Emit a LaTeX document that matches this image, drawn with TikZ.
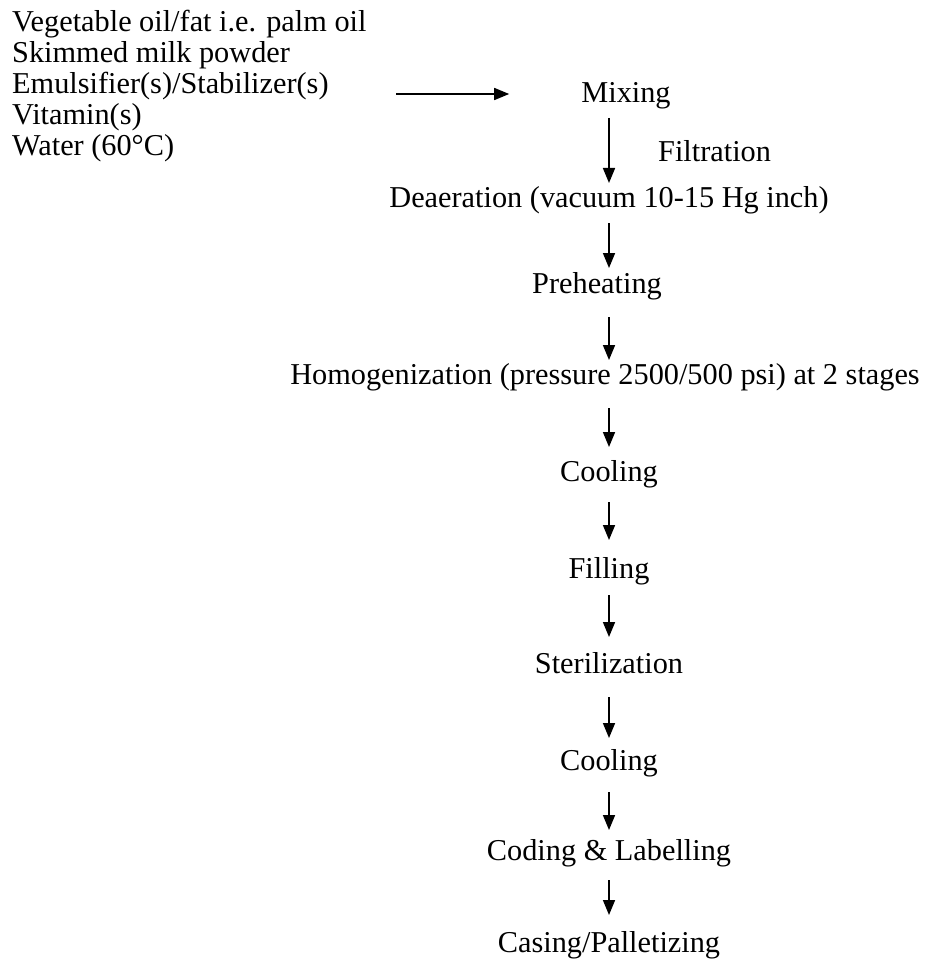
\documentclass[tikz,border=0pt]{standalone}
\usepackage{fontspec}
\setmainfont{Liberation Serif}
\usetikzlibrary{arrows.meta}
\begin{document}
\begin{tikzpicture}[x=1pt,y=-1pt,
  txt/.style={inner sep=0pt,font=\fontsize{30.3}{31}\selectfont},
  stepnode/.style={txt,anchor=base},
  leftnode/.style={txt,anchor=base west},
  arr/.style={line width=1.6pt,-{Triangle[length=15pt,width=12pt]}}]
\useasboundingbox (0,0) rectangle (925,960);
\coordinate (ax) at (609,0);
% inputs
\node[leftnode] (in1) at (12,32) {Vegetable oil/fat i.e. palm oil};
\node[leftnode] (in2) at (12,63) {Skimmed milk powder};
\node[leftnode] (in3) at (12,94) {Emulsifier(s)/Stabilizer(s)};
\node[leftnode] (in4) at (12,125) {Vitamin(s)};
\node[leftnode] (in5) at (12,156) {Water (60°C)};
\coordinate (hstart) at (396,94);
% steps
\node[stepnode] (mix) at (626,103) {Mixing};
\node[leftnode] (filt) at (658,162) {Filtration};
\node[stepnode] (deaer) at (609,207) {Deaeration (vacuum 10-15 Hg inch)};
\node[stepnode] (preh) at (597,293) {Preheating};
\node[stepnode] (homog) at (605,384) {Homogenization (pressure 2500/500 psi) at 2 stages};
\node[stepnode] (cool1) at (609,481) {Cooling};
\node[stepnode] (fill) at (609,578) {Filling};
\node[stepnode] (steril) at (609,673) {Sterilization};
\node[stepnode] (cool2) at (609,770) {Cooling};
\node[stepnode] (code) at (609,860) {Coding \& Labelling};
\node[stepnode] (case) at (609,952) {Casing/Palletizing};
% connectors
\draw[arr] (hstart) -- ([xshift=-72pt]mix.west |- hstart);
\draw[arr] ([yshift=-15pt]mix.base -| ax) -- ([yshift=24pt]deaer.base -| ax);
\draw[arr] ([yshift=-16pt]deaer.base -| ax) -- ([yshift=25pt]preh.base -| ax);
\draw[arr] ([yshift=-24pt]preh.base -| ax) -- ([yshift=24pt]homog.base -| ax);
\draw[arr] ([yshift=-24pt]homog.base -| ax) -- ([yshift=34pt]cool1.base -| ax);
\draw[arr] ([yshift=-21pt]cool1.base -| ax) -- ([yshift=38pt]fill.base -| ax);
\draw[arr] ([yshift=-17pt]fill.base -| ax) -- ([yshift=36pt]steril.base -| ax);
\draw[arr] ([yshift=-24pt]steril.base -| ax) -- ([yshift=32pt]cool2.base -| ax);
\draw[arr] ([yshift=-22pt]cool2.base -| ax) -- ([yshift=30pt]code.base -| ax);
\draw[arr] ([yshift=-20pt]code.base -| ax) -- ([yshift=37pt]case.base -| ax);
\end{tikzpicture}
\end{document}
